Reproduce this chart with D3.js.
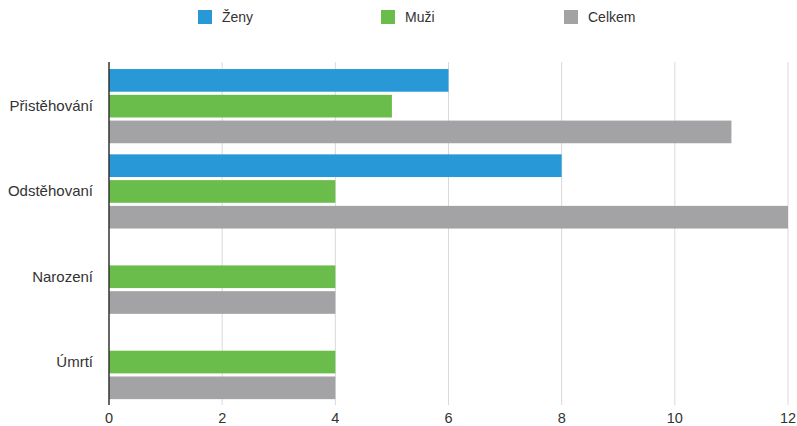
<!DOCTYPE html>
<html>
<head>
<meta charset="utf-8">
<script src="https://cdn.jsdelivr.net/npm/d3@7"></script>
<style>
  body { margin: 0; background: #fff; }
  svg text { font-family: "Liberation Sans", Arial, sans-serif; fill: #333; }
</style>
</head>
<body>
<svg id="chart" width="797" height="426"></svg>
<script>
// data
const categories = ["Přistěhování", "Odstěhovaní", "Narození", "Úmrtí"];
const seriesNames = ["Ženy", "Muži", "Celkem"];
const zeny = [6, 8, 0, 0];
const muzi = [5, 4, 4, 4];
const celkem = [11, 12, 4, 4];
const xTicks = [0, 2, 4, 6, 8, 10, 12];
const colors = ["#2899d6", "#6bbd4b", "#a3a3a6"];

const values = [zeny, muzi, celkem];
const svg = d3.select("#chart");

const x = d3.scaleLinear().domain([0, 12]).range([109, 788]);
const y = d3.scaleBand().domain(categories).range([63.5, 404.7])
  .paddingInner(0.13).paddingOuter(0.065);
const ySub = d3.scaleBand().domain(seriesNames).range([0, y.bandwidth()])
  .paddingInner(0.12);
const color = d3.scaleOrdinal().domain(seriesNames).range(colors);

// gridlines
svg.append("g").selectAll("line")
  .data(xTicks.slice(1))
  .join("line")
  .attr("x1", d => x(d)).attr("x2", d => x(d))
  .attr("y1", 62).attr("y2", 405)
  .attr("stroke", "#d9d9d9").attr("stroke-width", 1);

// bars
const groups = svg.append("g").selectAll("g")
  .data(categories)
  .join("g")
  .attr("transform", d => `translate(0,${y(d)})`);

groups.selectAll("rect")
  .data((c, i) => seriesNames.map((s, j) => ({ s, v: values[j][i] })))
  .join("rect")
  .attr("x", x(0))
  .attr("y", d => ySub(d.s))
  .attr("width", d => x(d.v) - x(0))
  .attr("height", ySub.bandwidth())
  .attr("fill", d => color(d.s));

// axis line
svg.append("line")
  .attr("x1", x(0)).attr("x2", x(0))
  .attr("y1", 62).attr("y2", 405)
  .attr("stroke", "#333").attr("stroke-width", 1.5);

// x tick labels
svg.append("g").selectAll("text")
  .data(xTicks)
  .join("text")
  .attr("x", d => x(d))
  .attr("y", 423)
  .attr("text-anchor", "middle")
  .attr("font-size", 14.5)
  .text(d => d);

// category labels
svg.append("g").selectAll("text")
  .data(categories)
  .join("text")
  .attr("x", 93)
  .attr("y", d => y(d) + y.bandwidth() / 2 + 5)
  .attr("text-anchor", "end")
  .attr("font-size", 15)
  .text(d => d);

// legend
const legendX = [198, 381, 564];
const legend = svg.append("g").selectAll("g")
  .data(seriesNames)
  .join("g")
  .attr("transform", (d, i) => `translate(${legendX[i]},10)`);
legend.append("rect")
  .attr("width", 14).attr("height", 14)
  .attr("fill", d => color(d));
legend.append("text")
  .attr("x", 24).attr("y", 12)
  .attr("font-size", 14)
  .text(d => d);
</script>
</body>
</html>
